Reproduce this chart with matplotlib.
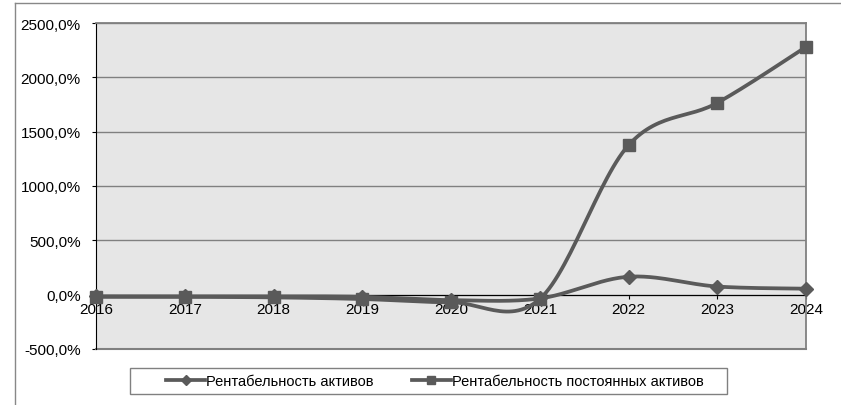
import numpy as np
import matplotlib
matplotlib.use('Agg')
import matplotlib.pyplot as plt
from matplotlib.lines import Line2D
from matplotlib.patches import Rectangle
from matplotlib.ticker import FuncFormatter

plt.rcParams['font.family'] = ['Liberation Sans', 'DejaVu Sans']

# данные
years = [2016, 2017, 2018, 2019, 2020, 2021, 2022, 2023, 2024]
rent_aktivov = [-15, -15, -15, -20, -50, -35, 165, 75, 55]
rent_post_aktivov = [-20, -20, -25, -40, -70, -40, 1375, 1765, 2280]

name_1 = 'Рентабельность активов'
name_2 = 'Рентабельность постоянных активов'


def sglad(x, y, n=30):
    # сглаживание как в Excel (Catmull-Rom через кривые Безье)
    x = np.asarray(x, float)
    y = np.asarray(y, float)
    px = np.concatenate([[x[0]], x, [x[-1]]])
    py = np.concatenate([[y[0]], y, [y[-1]]])
    xs, ys = [], []
    t = np.linspace(0, 1, n)
    for i in range(1, len(px) - 2):
        x0, x1, x2, x3 = px[i - 1], px[i], px[i + 1], px[i + 2]
        y0, y1, y2, y3 = py[i - 1], py[i], py[i + 1], py[i + 2]
        cx1, cy1 = x1 + (x2 - x0) / 6, y1 + (y2 - y0) / 6
        cx2, cy2 = x2 - (x3 - x1) / 6, y2 - (y3 - y1) / 6
        bx = (1 - t) ** 3 * x1 + 3 * (1 - t) ** 2 * t * cx1 + 3 * (1 - t) * t ** 2 * cx2 + t ** 3 * x2
        by = (1 - t) ** 3 * y1 + 3 * (1 - t) ** 2 * t * cy1 + 3 * (1 - t) * t ** 2 * cy2 + t ** 3 * y2
        xs.extend(bx)
        ys.extend(by)
    return np.array(xs), np.array(ys)


cor = '#5a5a5a'
W, H = 841, 406
fig = plt.figure(figsize=(8.41, 4.06), dpi=100)
ax = fig.add_axes([96 / W, 56 / H, 710 / W, 326 / H])
ax.set_facecolor('#e6e6e6')

for serie, mk, ms in [(rent_aktivov, 'D', 7), (rent_post_aktivov, 's', 9)]:
    xs, ys = sglad(years, serie)
    ax.plot(xs, ys, color=cor, lw=2.7, solid_capstyle='round', zorder=3, clip_on=False)
    ax.plot(years, serie, ls='none', marker=mk, ms=ms, color=cor, zorder=4, clip_on=False)

ax.set_xlim(2016, 2024)
ax.set_ylim(-500, 2500)
ax.set_yticks(range(-500, 2501, 500))
ax.yaxis.set_major_formatter(FuncFormatter(lambda v, p: f'{v:.1f}%'.replace('.', ',')))
ax.set_xticks(years)
ax.set_xticklabels([str(a) for a in years])
ax.grid(axis='y', color='#808080', lw=1)
ax.set_axisbelow(True)

ax.spines['bottom'].set_position(('data', 0))
ax.spines['bottom'].set_color('black')
ax.spines['left'].set_color('black')
ax.spines['top'].set_color('#808080')
ax.spines['right'].set_color('#808080')
ax.spines['top'].set_linewidth(1.3)
ax.spines['right'].set_linewidth(1.3)
ax.axhline(-500, color='#808080', lw=1.5, clip_on=False)
ax.tick_params(axis='both', labelsize=11, length=3, color='black')
ax.tick_params(axis='y', pad=8)
ax.tick_params(axis='x', pad=2)

# рамка диаграммы
fig.add_artist(Line2D([15 / W, 1], [1 - 4 / H, 1 - 4 / H], color='#888888', lw=1))
fig.add_artist(Line2D([15 / W, 15 / W], [0, 1 - 4 / H], color='#888888', lw=1))

# легенда: рамка отдельно, чтобы поля были как в Excel
fig.add_artist(Rectangle((130 / W, 11 / H), 597 / W, 26 / H, transform=fig.transFigure,
                         facecolor='white', edgecolor='#808080', lw=1, zorder=5))
handles = [Line2D([], [], color=cor, lw=2.7, marker='D', ms=5),
           Line2D([], [], color=cor, lw=2.7, marker='s', ms=6)]
leg = fig.legend(handles, [name_1, name_2], loc='center left', bbox_to_anchor=(166 / W, 24 / H),
                 ncol=2, fontsize=10.5, frameon=False, borderpad=0, borderaxespad=0,
                 handlelength=2.7, handletextpad=0.05, columnspacing=2.6)
leg.set_zorder(6)

plt.savefig('out.png', dpi=100)
plt.close()
